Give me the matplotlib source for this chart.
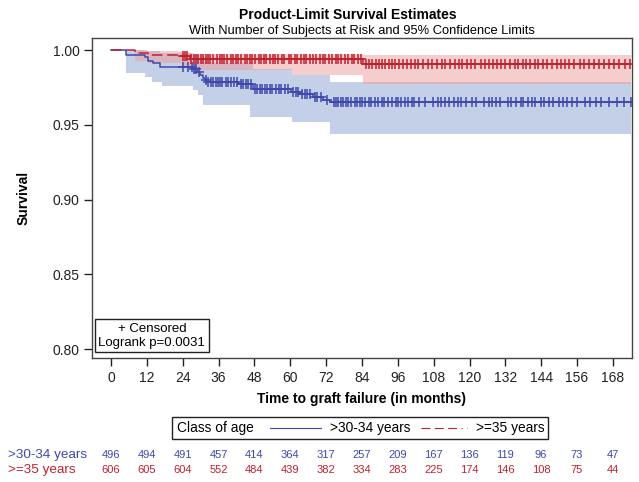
"""Product-limit survival estimates by age class, with at-risk table."""

import matplotlib

matplotlib.use("Agg")
import matplotlib.pyplot as plt
import matplotlib.transforms as mtransforms
import numpy as np
from matplotlib.lines import Line2D
from matplotlib.offsetbox import AnchoredOffsetbox, DrawingArea, HPacker, TextArea

plt.rcParams["font.family"] = ["Liberation Sans", "DejaVu Sans"]

BLUE = "#3F48AC"
RED = "#C0202E"
BLUE_BAND = "#C4D0E8"
RED_BAND = "#EC9C9C"

T_END = 174.0

# >30-34 years: step curve
blue_t = [0, 5, 11.4, 12.4, 14, 16.4, 27.4, 28.8, 29.8, 30.8, 31.5, 32.1,
          42.5, 47.5, 60.3, 63, 67.6, 71, 73.3]
blue_s = [1.0, 0.997, 0.9955, 0.993, 0.9915, 0.9885, 0.9875, 0.9853, 0.983,
          0.9813, 0.9797, 0.9786, 0.9775, 0.9741, 0.9719, 0.9707, 0.9686,
          0.9666, 0.9650]
# >30-34 years: 95% confidence band
blue_band_t = [0, 5, 11.4, 13.7, 16.4, 17, 27.4, 29, 30.8, 32, 46.5, 47.5, 60.4, 73.3]
blue_lo = [1.0, 0.9846, 0.982, 0.9786, 0.9786, 0.976, 0.973, 0.970, 0.963,
           0.963, 0.955, 0.955, 0.9518, 0.9438]
blue_hi = [1.0, 0.9998, 0.9995, 0.9995, 0.998, 0.998, 0.997, 0.995, 0.993,
           0.9915, 0.9915, 0.9873, 0.983, 0.9786]

# >=35 years: step curve
red_t = [0, 8, 12.4, 23.8, 26.4, 84.3]
red_s = [1.0, 0.9983, 0.9969, 0.9958, 0.994, 0.9910]
# >=35 years: 95% confidence band
red_band_t = [0, 8, 12.4, 23.8, 26.4, 60.4, 84.3]
red_lo = [1.0, 0.993, 0.9915, 0.989, 0.9866, 0.9835, 0.977]
red_hi = [1.0, 1.0, 0.9995, 0.9985, 0.9975, 0.9975, 0.9965]

# censored observation times (months)
blue_cens = [24.2, 25.6, 27.0, 27.9, 28.5, 29.3, 31.9, 32.6, 33.4, 34.1, 35.0,
             35.8, 36.5, 37.2, 38.4, 39.1, 40.0, 41.2, 42.0, 43.6, 44.3, 45.1,
             45.9, 47.0, 48.3, 49.0, 49.8, 50.6, 51.5, 52.2, 53.1, 54.0, 55.3,
             56.1, 57.0, 58.2, 59.1, 61.0, 61.8, 62.5, 64.0, 64.9, 65.7, 66.6,
             68.3, 69.0, 70.2, 72.2, 74.5, 75.2, 76.0, 76.9, 77.7, 78.6, 79.4,
             80.3, 81.5, 82.4, 83.2, 84.0, 85.1, 86.3, 87.0, 88.2, 89.5, 90.6,
             91.4, 92.8, 94.0, 95.3, 96.1, 97.0, 98.5, 99.4, 100.6, 101.5,
             103.0, 105.2, 107.8, 109.5, 110.6, 111.9, 113.0, 114.8, 116.0,
             117.1, 118.9, 121.0, 122.3, 124.8, 126.5, 127.4, 129.0, 130.2,
             132.9, 134.0, 135.6, 137.2, 138.0, 139.5, 140.8, 142.0, 143.9,
             145.1, 146.7, 148.0, 149.9, 151.2, 152.5, 154.3, 156.0, 158.6,
             160.2, 162.4, 164.0, 166.8, 169.5, 171.8, 174.0]
red_cens = [24.0, 24.8, 25.5, 26.9, 27.6, 28.3, 29.1, 30.0, 30.8, 31.6, 32.5,
            33.2, 34.0, 35.5, 36.3, 37.0, 37.9, 38.7, 40.1, 40.9, 41.7, 42.6,
            43.4, 44.8, 45.6, 46.5, 47.3, 48.2, 49.4, 50.3, 51.1, 52.0, 53.3,
            54.1, 55.0, 55.8, 57.2, 58.0, 59.4, 60.3, 61.5, 62.4, 63.6, 64.5,
            65.3, 66.7, 67.6, 68.5, 69.9, 70.8, 71.6, 72.9, 74.0, 75.2, 76.1,
            77.0, 78.4, 79.3, 80.5, 81.2, 82.6, 83.5, 85.4, 86.5, 87.3, 88.7,
            89.6, 90.8, 91.7, 92.9, 94.0, 95.1, 96.5, 97.8, 99.0, 100.3, 101.6,
            102.8, 104.5, 106.0, 107.4, 109.1, 110.8, 111.9, 113.5, 115.0,
            116.4, 117.6, 119.2, 120.5, 122.0, 123.8, 125.3, 126.4, 127.9,
            129.3, 130.6, 132.0, 133.5, 135.1, 136.2, 137.8, 139.0, 140.4,
            141.9, 143.0, 144.6, 146.1, 147.5, 149.2, 150.6, 152.0, 153.4,
            155.0, 156.9, 158.3, 160.0, 161.7, 163.2, 165.0, 166.6, 168.4,
            170.1, 172.0, 173.6]

# number at risk
risk_times = [0, 12, 24, 36, 48, 60, 72, 84, 96, 108, 120, 132, 144, 156, 168]
blue_risk = [496, 494, 491, 457, 414, 364, 317, 257, 209, 167, 136, 119, 96, 73, 47]
red_risk = [606, 605, 604, 552, 484, 439, 382, 334, 283, 225, 174, 146, 108, 75, 44]


def _step_value(times, values, x):
    idx = np.searchsorted(np.asarray(times), np.asarray(x), side="right") - 1
    return np.asarray(values)[idx]


def _ext(times, values):
    return list(times) + [T_END], list(values) + [values[-1]]


fig = plt.figure(figsize=(6.39, 4.82), dpi=100)
ax = fig.add_axes([0.144, 0.257, 0.845, 0.664])

bt, blo = _ext(blue_band_t, blue_lo)
_, bhi = _ext(blue_band_t, blue_hi)
ax.fill_between(bt, blo, bhi, step="post", color=BLUE_BAND, lw=0)
rt, rlo = _ext(red_band_t, red_lo)
_, rhi = _ext(red_band_t, red_hi)
ax.fill_between(rt, rlo, rhi, step="post", color=RED_BAND, alpha=0.5, lw=0)

x, y = _ext(blue_t, blue_s)
ax.step(x, y, where="post", color=BLUE, lw=1.1)
x, y = _ext(red_t, red_s)
ax.step(x, y, where="post", color=RED, lw=1.1, dashes=(7, 3))

ax.plot(blue_cens, _step_value(blue_t, blue_s, blue_cens), ls="none",
        marker="+", ms=6.5, mew=1.1, color=BLUE)
ax.plot(red_cens, _step_value(red_t, red_s, red_cens), ls="none",
        marker="+", ms=6.5, mew=1.1, color=RED)

ax.set_xlim(-6.4, 174.4)
ax.set_ylim(0.794, 1.008)
ax.set_xticks(risk_times)
ax.set_yticks([0.80, 0.85, 0.90, 0.95, 1.00])
ax.set_yticklabels([f"{v:.2f}" for v in [0.80, 0.85, 0.90, 0.95, 1.00]])
ax.tick_params(direction="out", length=6, width=1, pad=3, labelsize=10,
               colors="#222222")
for sp in ax.spines.values():
    sp.set_color("#444444")
    sp.set_linewidth(1.0)

ax.set_xlabel("Time to graft failure (in months)", fontsize=10, fontweight="bold",
              labelpad=5)
ax.set_ylabel("Survival", fontsize=10, fontweight="bold", labelpad=16)

ax.text(0.012, 0.03, "+ Censored\nLogrank p=0.0031", transform=ax.transAxes,
        ha="left", va="bottom", fontsize=9.5, multialignment="center",
        bbox=dict(boxstyle="square,pad=0.25", fc="white", ec="#222222", lw=1))

fig.text(0.545, 0.968, "Product-Limit Survival Estimates", ha="center", va="center",
         fontsize=10, fontweight="bold")
fig.text(0.566, 0.935, "With Number of Subjects at Risk and 95% Confidence Limits",
         ha="center", va="center", fontsize=9.3)


# legend box (DrawingArea sizes are in points)
def _line_handle(width, lead, trail, **kw):
    da = DrawingArea(lead + width + trail, 6, 0, 0)
    da.add_artist(Line2D([lead, lead + width], [3, 3], **kw))
    return da


items = [
    TextArea("Class of age", textprops=dict(fontsize=9.9)),
    _line_handle(37, 9, 3, color=BLUE, lw=0.8),
    TextArea(">30-34 years", textprops=dict(fontsize=9.9)),
    _line_handle(33, 5, 3, color=RED, lw=0.8,
                 dashes=(8, 4, 8, 4, 8, 4, 1, 4)),
    TextArea(">=35 years", textprops=dict(fontsize=9.9)),
]
pack = HPacker(children=items, align="center", pad=0, sep=3)
box = AnchoredOffsetbox(loc="center", child=pack, pad=0.3, borderpad=0,
                        frameon=True, bbox_to_anchor=(0.564, 0.112),
                        bbox_transform=fig.transFigure)
box.patch.set_edgecolor("#222222")
box.patch.set_linewidth(1.0)
fig.add_artist(box)

# number at risk
trans = mtransforms.blended_transform_factory(ax.transData, fig.transFigure)
for t, b, r in zip(risk_times, blue_risk, red_risk):
    ax.text(t, 0.056, str(b), transform=trans, ha="center", va="center",
            fontsize=8, color=BLUE)
    ax.text(t, 0.025, str(r), transform=trans, ha="center", va="center",
            fontsize=8, color=RED)
fig.text(0.012, 0.056, ">30-34 years", ha="left", va="center", fontsize=9.7, color=BLUE)
fig.text(0.012, 0.025, ">=35 years", ha="left", va="center", fontsize=9.7, color=RED)

fig.savefig("out.png", dpi=100)
